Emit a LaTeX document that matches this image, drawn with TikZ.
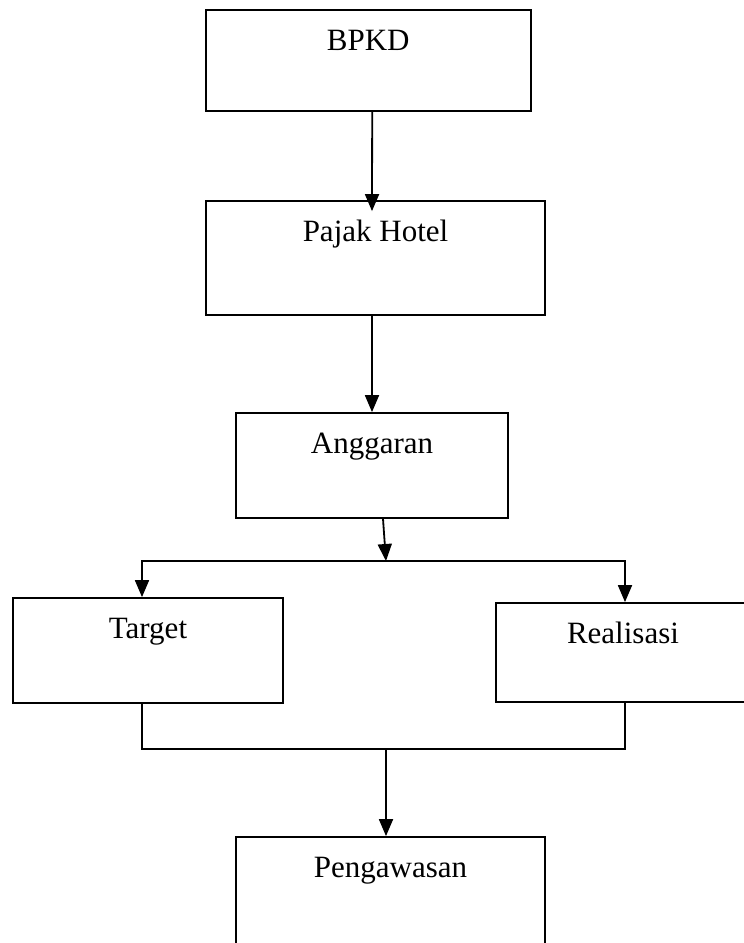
\documentclass[tikz,border=0pt]{standalone}
\usepackage{fontspec}
\setmainfont{Liberation Serif}
\usetikzlibrary{arrows.meta}
\begin{document}
\begin{tikzpicture}[x=1pt,y=-1pt,
  box/.style={draw, line width=1.8pt, minimum width=#1, inner sep=0pt},
  boxlabel/.style={anchor=base, yshift=-41pt, inner sep=0pt, font=\fontsize{31}{37}\selectfont},
  link/.style={line width=1.8pt},
  arr/.style={line width=1.8pt, -{Triangle[length=17pt,width=14pt]}}]
\path[use as bounding box] (0,0) rectangle (744,943);
\clip (0,0) rectangle (744,943);
\node[box=325pt, minimum height=100.7pt, label={[boxlabel]north:BPKD}] (bpkd) at (368.2,60.35) {};
\node[box=339pt, minimum height=114pt, label={[boxlabel]north:Pajak Hotel}] (pajak) at (375.5,258) {};
\node[box=272pt, minimum height=105pt, label={[boxlabel]north:Anggaran}] (ang) at (372,465.5) {};
\node[box=270pt, minimum height=105pt, label={[boxlabel]north:Target}] (tgt) at (148,650.5) {};
\node[box=254pt, minimum height=99pt, label={[boxlabel]north:Realisasi}] (real) at (623,652.5) {};
\node[box=309pt, minimum height=110pt, label={[boxlabel]north:Pengawasan}] (peng) at (390.5,892) {};
\coordinate (j1) at (386,561);
\coordinate (j2) at (386,749);
\draw[arr] ([xshift=4pt]bpkd.south) -- ([xshift=-3.5pt,yshift=-11pt]pajak.north);
\draw[arr] ([xshift=-3.5pt]pajak.south) -- (ang.north);
\draw[arr] ([xshift=11pt]ang.south) -- (j1);
\draw[arr] (j1) -| ([xshift=-6pt]tgt.north);
\draw[arr] (j1) -| ([xshift=2pt]real.north);
\draw[link] ([xshift=-6pt]tgt.south) |- (j2);
\draw[link] ([xshift=2pt]real.south) |- (j2);
\draw[arr] (j2) -- ([xshift=-4.5pt]peng.north);
\end{tikzpicture}
\end{document}
